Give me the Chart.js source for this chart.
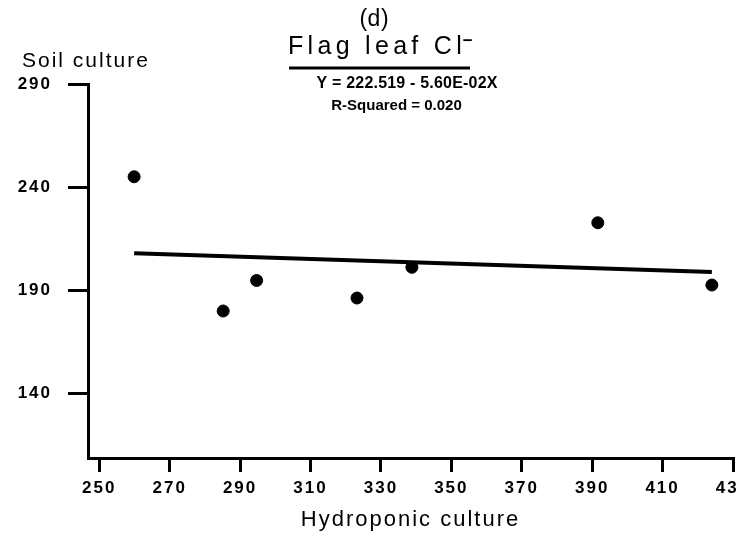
<!DOCTYPE html>
<html>
<head>
<meta charset="utf-8">
<title>Flag leaf Cl- : soil vs hydroponic culture</title>
<script src="https://cdn.jsdelivr.net/npm/chart.js@4.4.1/dist/chart.umd.min.js"></script>
<style>
  html,body{margin:0;padding:0;background:#fff;}
  #wrap{width:737px;height:537px;overflow:hidden;}
  canvas{display:block;}
</style>
</head>
<body>
<div id="wrap"><canvas id="chartCl" width="760" height="537"></canvas></div>
<script>
// --- data: Cl- in flag leaf, hydroponic vs soil culture ---
const hydroponic = [259.9, 285.2, 294.7, 323.2, 338.8, 391.6, 424.0];
const soil       = [245.0, 179.9, 194.7, 186.2, 201.1, 222.7, 192.5];
const xTicks = [250, 270, 290, 310, 330, 350, 370, 390, 410, 430];
const yTicks = [140, 190, 240, 290];

// regression: Y = 222.519 - 5.60E-02X
const fitIntercept = 222.519;
const fitSlope = -5.60e-2;

const FONT = "'Liberation Sans', Arial, Helvetica, sans-serif";

// fitted line over the range of the data
const xLo = Math.min(...hydroponic), xHi = Math.max(...hydroponic);
const fitLine = [xLo, xHi].map(x => ({ x, y: fitIntercept + fitSlope * x }));
const points = hydroponic.map((x, i) => ({ x, y: soil[i] }));

// draw text letter by letter (the typeface is widely tracked)
function spaced(ctx, text, x, y, font, gap, align){
  ctx.font = font;
  const w = [...text].map(c => ctx.measureText(c).width);
  const total = w.reduce((a, b) => a + b, 0) + gap * (w.length - 1);
  let cx = align === "center" ? x - total / 2 : x;
  ctx.textAlign = "left";
  [...text].forEach((c, i) => { ctx.fillText(c, cx, y); cx += w[i] + gap; });
  return { left: align === "center" ? x - total / 2 : x, right: cx - gap };
}

const headings = {
  id: "headings",
  beforeDraw(chart){ chart.ctx.letterSpacing = "2px"; },
  afterDraw(chart){
    const ctx = chart.ctx;
    ctx.save();
    ctx.letterSpacing = "0px";
    ctx.fillStyle = "#000";
    ctx.strokeStyle = "#000";
    ctx.textBaseline = "alphabetic";

    spaced(ctx, "(d)", 374, 26, `23px ${FONT}`, 0.5, "center");

    const t = spaced(ctx, "Flag leaf Cl", 288, 54, `25px ${FONT}`, 4.3, "left");
    ctx.font = `bold 17px ${FONT}`;
    ctx.fillText("\u2212", t.right + 1, 45.5);
    ctx.lineWidth = 3;
    ctx.beginPath();
    ctx.moveTo(289, 68);
    ctx.lineTo(470, 68);
    ctx.stroke();

    spaced(ctx, "Y = 222.519 - 5.60E-02X", 407, 88, `bold 16px ${FONT}`, 0.2, "center");
    spaced(ctx, "R-Squared = 0.020", 396.5, 109.5, `bold 15px ${FONT}`, 0, "center");

    spaced(ctx, "Soil culture", 22, 67, `21px ${FONT}`, 2, "left");
    ctx.restore();
  }
};

const axisLine = { color: "#000", width: 3 };

new Chart(document.getElementById("chartCl"), {
  type: "scatter",
  data: {
    datasets: [
      { data: fitLine, showLine: true, borderColor: "#000", borderWidth: 4,
        pointRadius: 0, pointHoverRadius: 0, order: 2 },
      { data: points, backgroundColor: "#000", borderColor: "#000",
        pointRadius: 6, pointHoverRadius: 6, order: 1 }
    ]
  },
  options: {
    responsive: false,
    animation: false,
    events: [],
    layout: { padding: { top: 84, right: 27, left: 0, bottom: 0 } },
    plugins: { legend: { display: false }, tooltip: { enabled: false } },
    scales: {
      x: {
        type: "linear", min: 246.8, max: 430,
        afterBuildTicks: s => { s.ticks = xTicks.map(v => ({ value: v })); },
        afterFit: s => { s.height = 79; },
        border: axisLine,
        grid: { drawOnChartArea: false, drawTicks: true, tickLength: 14, color: "#000", lineWidth: 3 },
        ticks: { color: "#000", padding: 6, autoSkip: false, maxRotation: 0,
                 font: { family: FONT, size: 17, weight: "bold" } },
        title: { display: true, text: "Hydroponic culture", color: "#000",
                 font: { family: FONT, size: 22 }, padding: { top: 0, bottom: 4 } }
      },
      y: {
        type: "linear", min: 108.6, max: 290,
        afterBuildTicks: s => { s.ticks = yTicks.map(v => ({ value: v })); },
        afterFit: s => { s.width = 88; },
        border: axisLine,
        grid: { drawOnChartArea: false, drawTicks: true, tickLength: 20, color: "#000", lineWidth: 3 },
        ticks: { color: "#000", padding: 16, font: { family: FONT, size: 17, weight: "bold" } }
      }
    }
  },
  plugins: [headings]
});
</script>
</body>
</html>
